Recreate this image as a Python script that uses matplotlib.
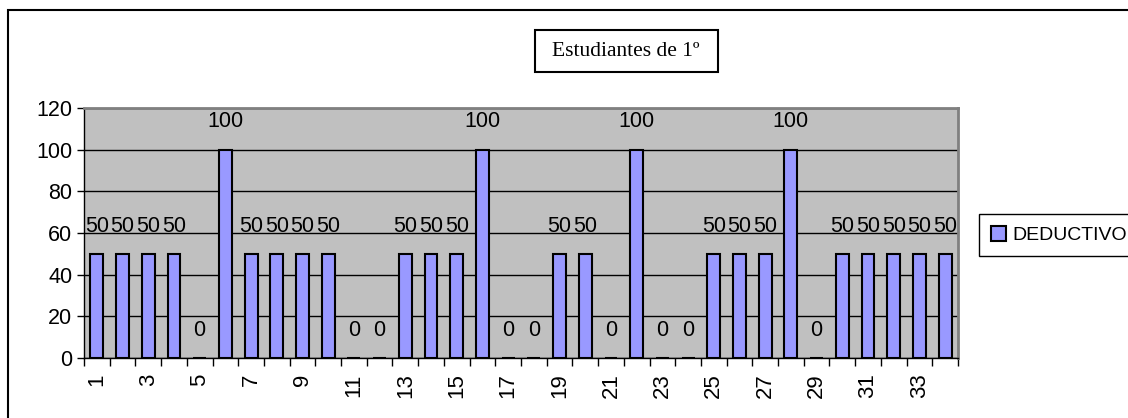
import numpy as np
import matplotlib
matplotlib.use('Agg')
import matplotlib.pyplot as plt
from matplotlib.patches import Rectangle

plt.rcParams['font.family'] = ['Liberation Sans', 'DejaVu Sans']

# Respuestas por estudiante
estudiantes = list(range(1, 35))
deductivo = [50, 50, 50, 50, 0, 100, 50, 50, 50, 50,
             0, 0, 50, 50, 50, 100, 0, 0, 50, 50,
             0, 100, 0, 0, 50, 50, 50, 100, 0, 50,
             50, 50, 50, 50]
titulo = 'Estudiantes de 1º'
serie = 'DEDUCTIVO'
yticks = [0, 20, 40, 60, 80, 100, 120]

W, H = 1128, 418
fs = 15.5
fig = plt.figure(figsize=(W / 100, H / 100), dpi=100)

# outer chart frame (runs off the right and bottom edges)
fig.patches.append(Rectangle((8 / W, -0.1), 2.0, 1 - 10 / H + 0.1,
                             transform=fig.transFigure, fill=False,
                             edgecolor='black', linewidth=1.5))

ax = fig.add_axes([84 / W, (H - 358) / H, (958 - 84) / W, (358 - 108) / H])
ax.set_facecolor('#C0C0C0')

ax.bar(estudiantes, deductivo, width=0.5, color='#9999FF',
       edgecolor='black', linewidth=1.5, zorder=3, label=serie)

for x, v in zip(estudiantes, deductivo):
    ax.annotate(str(v), (x, v), xytext=(0, 20), textcoords='offset points',
                ha='center', va='center', fontsize=fs, zorder=4)

ax.set_xlim(0.5, len(estudiantes) + 0.5)
ax.set_ylim(0, 120)
ax.set_yticks(yticks)
ax.yaxis.grid(True, color='black', linewidth=1, zorder=1)
ax.tick_params(axis='y', labelsize=fs, length=5, width=1, color='black')

# category boundaries carry the ticks, odd categories carry the labels
ax.set_xticks(np.arange(0.5, len(estudiantes) + 1, 1.0))
ax.set_xticklabels([])
odd = estudiantes[::2]
ax.set_xticks(odd, minor=True)
ax.set_xticklabels([str(e) for e in odd], minor=True, rotation=90,
                   fontsize=16)
ax.tick_params(axis='x', which='major', length=6, width=1, color='black')
ax.tick_params(axis='x', which='minor', length=0, pad=11)

for s in ('top', 'right'):
    ax.spines[s].set_color('#808080')
    ax.spines[s].set_linewidth(2)
for s in ('left', 'bottom'):
    ax.spines[s].set_color('black')
    ax.spines[s].set_linewidth(1)

# title box
fig.patches.append(Rectangle((535 / W, 1 - 72 / H), (718 - 535) / W, 42 / H,
                             transform=fig.transFigure, fill=False,
                             edgecolor='black', linewidth=1.5))
fig.text(626 / W, 1 - 51 / H, titulo, ha='center', va='center',
         fontsize=15.5, family='Liberation Serif')

leg = ax.legend(loc='upper left', bbox_to_anchor=(979 / W, 1 - 214 / H),
                bbox_transform=fig.transFigure, borderaxespad=0,
                fancybox=False, edgecolor='black', framealpha=1,
                fontsize=14, handlelength=0.8, handleheight=0.8,
                handletextpad=0.3, borderpad=0.6)
leg.get_frame().set_linewidth(1)

fig.savefig('out.png', dpi=100)
